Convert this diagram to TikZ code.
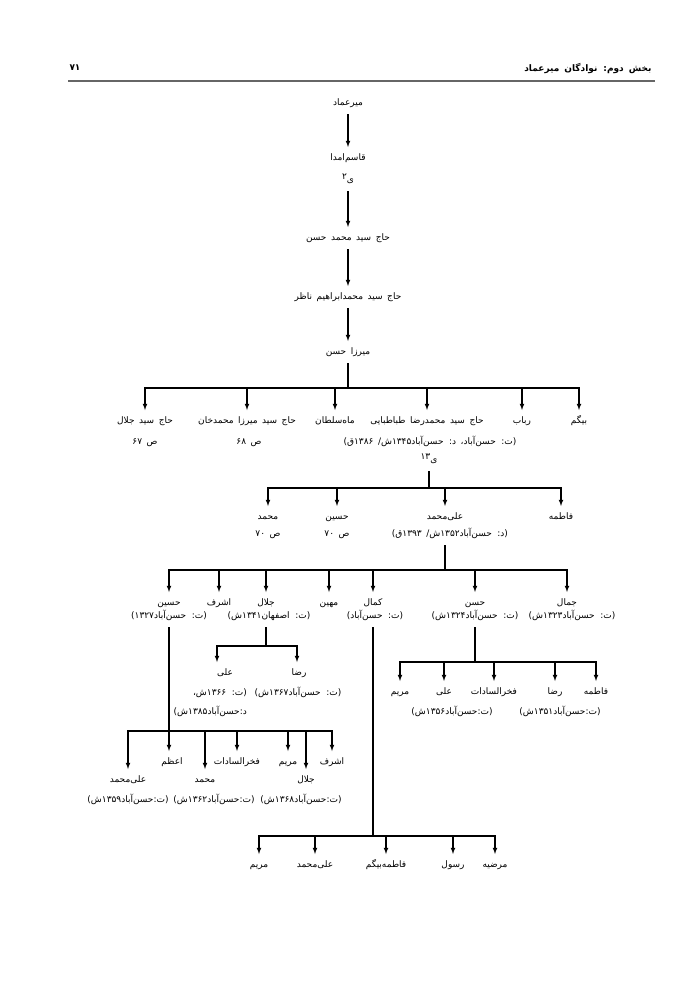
\documentclass[tikz,border=0pt]{standalone}
\usepackage{fontspec}
\TeXXeTstate=1
\newfontfamily\fa[Script=Arabic, WordSpace=1.6]{DejaVu Sans}
\newcommand{\treefont}{\fa\fontsize{9pt}{11pt}\selectfont}
\newcommand{\headfont}{\fa\bfseries\fontsize{9pt}{11pt}\selectfont}
\newcommand{\rtxt}[1]{\beginR #1\endR}
\newcommand{\up}[1]{\raisebox{2.5pt}{#1}}

\begin{document}
\begin{tikzpicture}[x=1pt, y=-1pt,
    person/.style = {font=\treefont, inner sep=1pt, text height=7pt, text depth=3pt, outer ysep=5pt},
    arr/.style = {draw, -latex, line width=1.1pt},
    stem/.style = {draw, line width=1.1pt}]
  \useasboundingbox (0,0) rectangle (700,989);
  %header
  \node[font=\headfont, anchor=east] (head) at (655,68) {\rtxt{بخش دوم: نوادگان میرعماد}};
  \node[font=\headfont] (page) at (75,68) {۷۱};
  \draw[line width=1.4pt, black!60] (68,81) -- (655,81);

  %nodes: top line
  \node[person] (mir) at (348,103) {\rtxt{میرعماد}};
  \node[person] (qasem) at (348,158) {\rtxt{قاسم‌امدا}};
  \node[person] (qasemn) at (348,180) {\rtxt{ی\up{۲}}};
  \node[person] (hasan0) at (348,238) {\rtxt{حاج سید محمد حسن}};
  \node[person] (ebrahim) at (348,297) {\rtxt{حاج سید محمدابراهیم ناظر}};
  \node[person] (mirza) at (348,352) {\rtxt{میرزا حسن}};

  %nodes: children of mirza
  \coordinate (barA) at (0,388);
  \node[person] (jalalA) at (145,421) {\rtxt{حاج سید جلال}};
  \node[person] (jalalAn) at (145,442) {\rtxt{ص ۶۷}};
  \node[person] (khanA) at (247,421) {\rtxt{حاج سید میرزا محمدخان}};
  \node[person] (khanAn) at (249,442) {\rtxt{ص ۶۸}};
  \node[person] (mahA) at (335,421) {\rtxt{ماه‌سلطان}};
  \node[person] (rezaA) at (427,421) {\rtxt{حاج سید محمدرضا طباطبایی}};
  \node[person] (rezaAn) at (430,442) {\rtxt{(ت: حسن‌آباد، د: حسن‌آباد۱۳۴۵ش/ ۱۳۸۶ق)}};
  \node[person] (rezaAs) at (429,460) {\rtxt{ی\up{۱۳}}};
  \node[person] (robabA) at (522,421) {\rtxt{رباب}};
  \node[person] (bigomA) at (579,421) {\rtxt{بیگم}};

  %nodes: children of rezaA
  \coordinate (barB) at (0,488);
  \node[person] (mohB) at (268,517) {\rtxt{محمد}};
  \node[person] (mohBn) at (268,534) {\rtxt{ص ۷۰}};
  \node[person] (hosB) at (337,517) {\rtxt{حسین}};
  \node[person] (hosBn) at (337,534) {\rtxt{ص ۷۰}};
  \node[person] (alimB) at (445,517) {\rtxt{علی‌محمد}};
  \node[person] (alimBn) at (450,534) {\rtxt{(د: حسن‌آباد۱۳۵۲ش/ ۱۳۹۳ق)}};
  \node[person] (fatB) at (561,517) {\rtxt{فاطمه}};

  %nodes: children of alimB
  \coordinate (barC) at (0,570);
  \node[person] (hosC) at (169,603) {\rtxt{حسین}};
  \node[person] (hosCn) at (169,616) {\rtxt{(ت: حسن‌آباد۱۳۲۷)}};
  \node[person] (ashC) at (219,603) {\rtxt{اشرف}};
  \node[person] (jalC) at (266,603) {\rtxt{جلال}};
  \node[person] (jalCn) at (269,616) {\rtxt{(ت: اصفهان۱۳۴۱ش)}};
  \node[person] (mahC) at (329,603) {\rtxt{مهین}};
  \node[person] (kamC) at (373,603) {\rtxt{کمال}};
  \node[person] (kamCn) at (375,616) {\rtxt{(ت: حسن‌آباد)}};
  \node[person] (hasC) at (475,603) {\rtxt{حسن}};
  \node[person] (hasCn) at (475,616) {\rtxt{(ت: حسن‌آباد۱۳۲۴ش)}};
  \node[person] (jamC) at (567,603) {\rtxt{جمال}};
  \node[person] (jamCn) at (572,616) {\rtxt{(ت: حسن‌آباد۱۳۲۳ش)}};

  %nodes: children of jalC
  \coordinate (barD) at (0,646);
  \node[person] (aliD) at (225,673) {\rtxt{علی}};
  \node[person, anchor=east] (aliDn) at (248,693) {\rtxt{(ت: ۱۳۶۶ش،}};
  \node[person, anchor=east] (aliDm) at (248,712) {\rtxt{د:حسن‌آباد۱۳۸۵ش)}};
  \node[person] (rezD) at (299,673) {\rtxt{رضا}};
  \node[person] (rezDn) at (298,693) {\rtxt{(ت: حسن‌آباد۱۳۶۷ش)}};

  %nodes: children of hasC
  \coordinate (barE) at (0,662);
  \node[person] (marE) at (400,692) {\rtxt{مریم}};
  \node[person] (aliE) at (444,692) {\rtxt{علی}};
  \node[person] (aliEn) at (452,712) {\rtxt{(ت:حسن‌آباد۱۳۵۶ش)}};
  \node[person] (fakE) at (494,692) {\rtxt{فخرالسادات}};
  \node[person] (rezE) at (555,692) {\rtxt{رضا}};
  \node[person] (rezEn) at (560,712) {\rtxt{(ت:حسن‌آباد۱۳۵۱ش)}};
  \node[person] (fatE) at (596,692) {\rtxt{فاطمه}};

  %nodes: children of hosC
  \coordinate (barF) at (0,731);
  \node[person] (alimF) at (128,780) {\rtxt{علی‌محمد}};
  \node[person] (alimFn) at (128,800) {\rtxt{(ت:حسن‌آباد۱۳۵۹ش)}};
  \node[person] (azaF) at (172,762) {\rtxt{اعظم}};
  \node[person] (mohF) at (205,780) {\rtxt{محمد}};
  \node[person] (mohFn) at (214,800) {\rtxt{(ت:حسن‌آباد۱۳۶۲ش)}};
  \node[person] (fakF) at (237,762) {\rtxt{فخرالسادات}};
  \node[person] (marF) at (288,762) {\rtxt{مریم}};
  \node[person] (jalF) at (306,780) {\rtxt{جلال}};
  \node[person] (jalFn) at (301,800) {\rtxt{(ت:حسن‌آباد۱۳۶۸ش)}};
  \node[person] (ashF) at (332,762) {\rtxt{اشرف}};

  %nodes: children of kamC
  \coordinate (barG) at (0,836);
  \node[person] (marG) at (259,865) {\rtxt{مریم}};
  \node[person] (alimG) at (315,865) {\rtxt{علی‌محمد}};
  \node[person] (fatG) at (386,865) {\rtxt{فاطمه‌بیگم}};
  \node[person] (rasG) at (453,865) {\rtxt{رسول}};
  \node[person] (marzG) at (495,865) {\rtxt{مرضیه}};

  %edges
  \path[arr] (mir) to (qasem);
  \path[arr] (qasemn) to (hasan0);
  \path[arr] (hasan0) to (ebrahim);
  \path[arr] (ebrahim) to (mirza);

  \path[stem] (mirza) to (mirza.south |- barA);
  \foreach \c in {jalalA, khanA, mahA, rezaA, robabA, bigomA}
    \path[arr] (mirza.south |- barA) -| (\c.north);

  \path[stem] (rezaAs) to (rezaAs.south |- barB);
  \foreach \c in {mohB, hosB, alimB, fatB}
    \path[arr] (rezaAs.south |- barB) -| (\c.north);

  \path[stem] (alimBn.south -| alimB) to (alimB |- barC);
  \foreach \c in {hosC, ashC, jalC, mahC, kamC, hasC, jamC}
    \path[arr] (alimB |- barC) -| (\c.north);

  \path[stem] (jalCn.south -| jalC) to (jalC |- barD);
  \path[arr] (jalC |- barD) -| ([xshift=-8pt]aliD.north);
  \path[arr] (jalC |- barD) -| ([xshift=-2pt]rezD.north);

  \path[stem] (hasCn.south -| hasC) to (hasC |- barE);
  \foreach \c in {marE, aliE, fakE, rezE, fatE}
    \path[arr] (hasC |- barE) -| (\c.north);

  \path[arr] (hosCn.south -| hosC) to (hosC |- azaF.north);
  \foreach \c in {alimF, mohF, fakF, marF, jalF, ashF}
    \path[arr] (hosC |- barF) -| (\c.north);

  \path[stem] (kamCn.south -| kamC) to (kamC |- barG);
  \foreach \c in {marG, alimG, fatG, rasG, marzG}
    \path[arr] (kamC |- barG) -| (\c.north);
\end{tikzpicture}
\end{document}
